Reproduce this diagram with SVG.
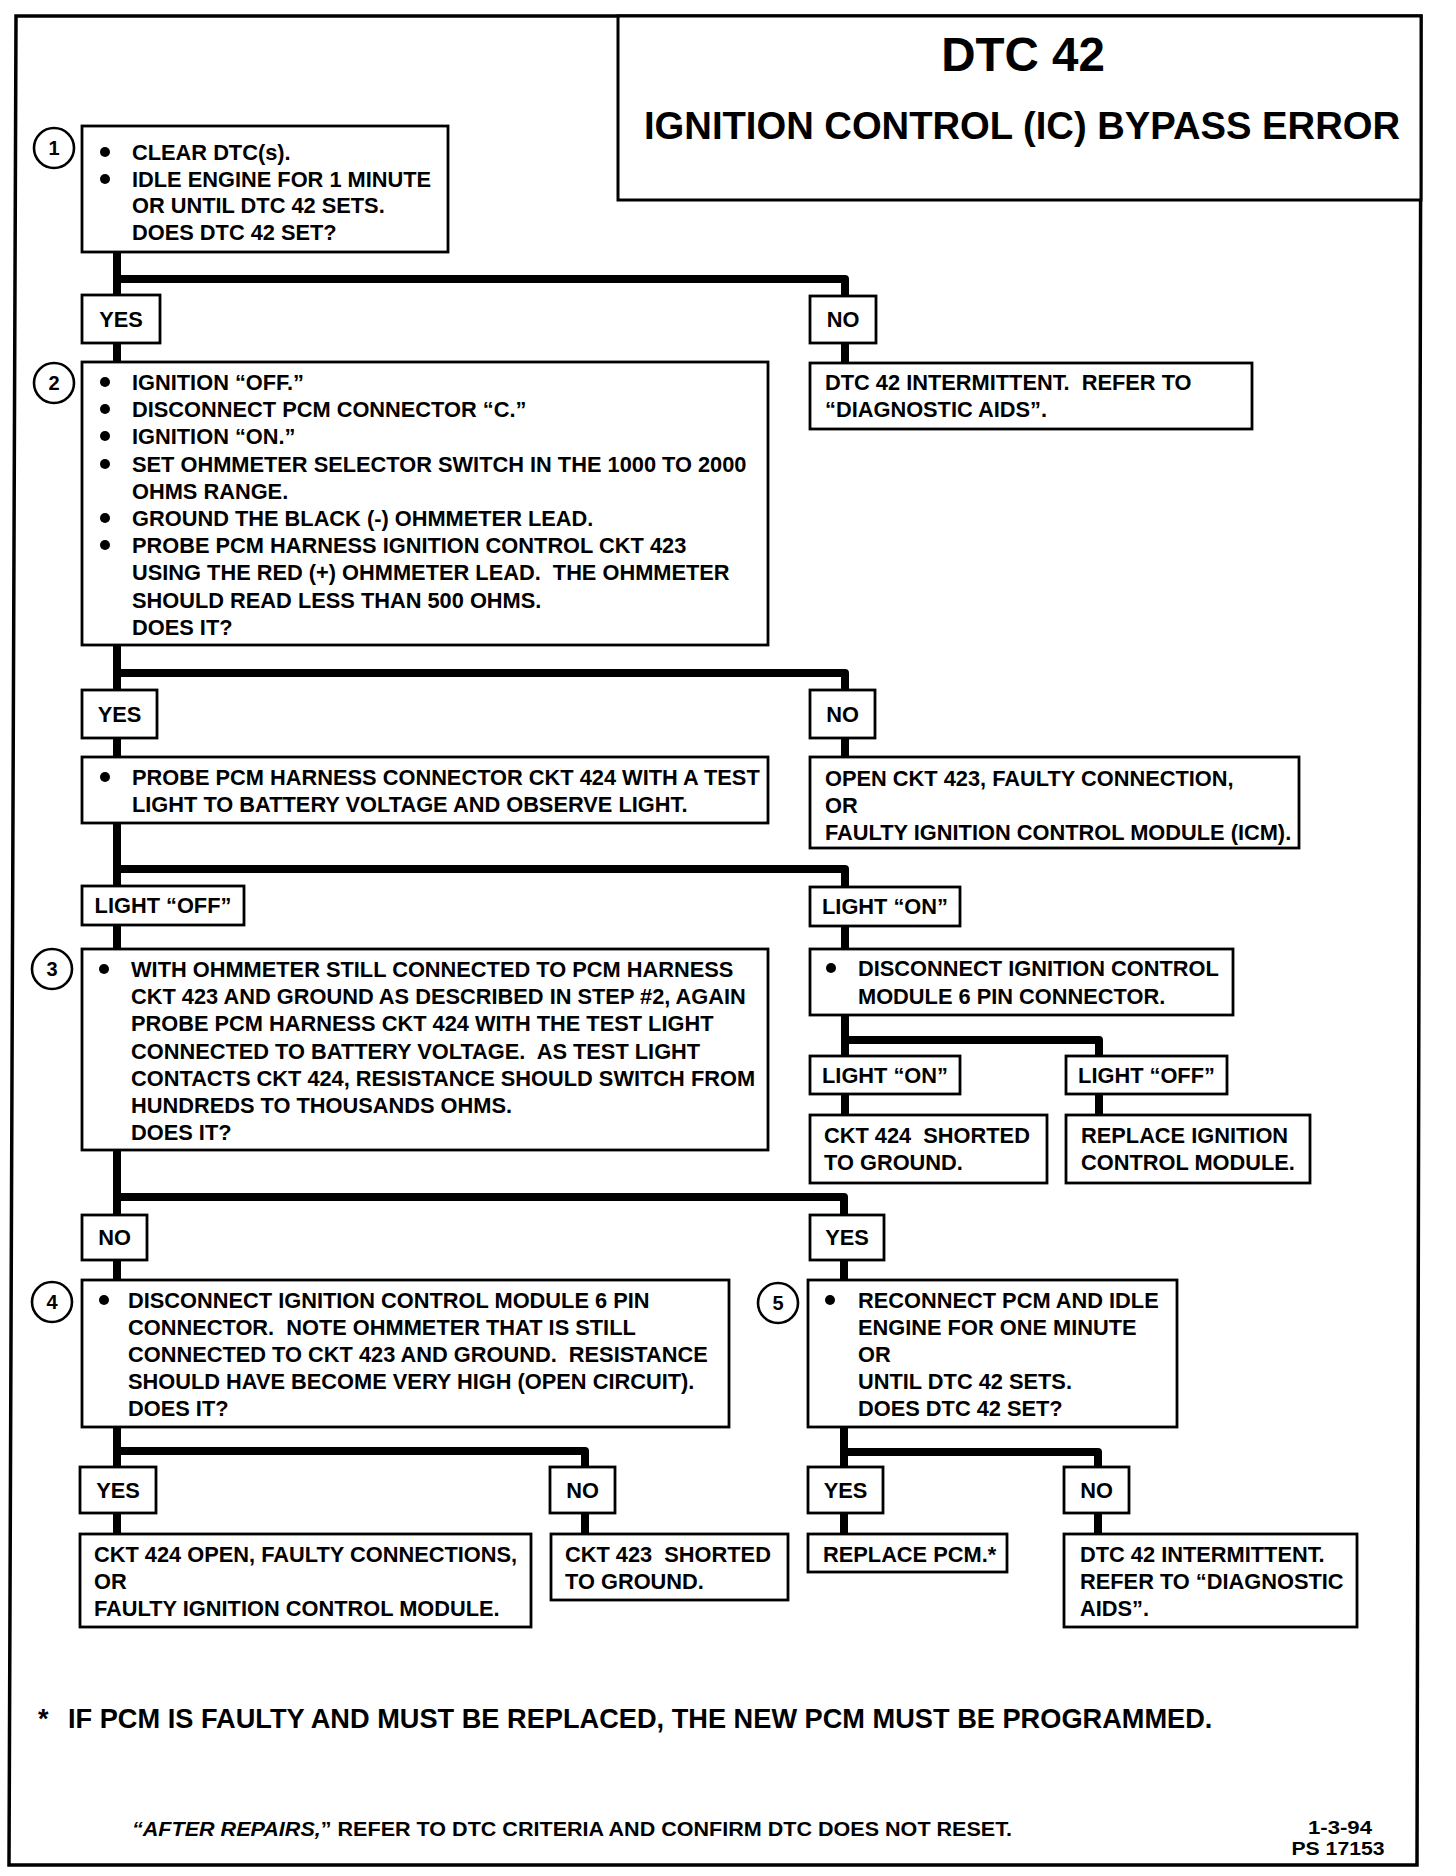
<svg xmlns="http://www.w3.org/2000/svg" width="1456" height="1876" viewBox="0 0 1456 1876" xml:space="preserve">
<style>
.box{fill:#fff;stroke:#000;stroke-width:2.8}
.t{font-family:"Liberation Sans",Arial,Helvetica,sans-serif;font-weight:bold;font-size:21.8px;fill:#000;white-space:pre}
.m{text-anchor:middle}
.conn{fill:none;stroke:#000;stroke-width:8;stroke-linejoin:round;stroke-linecap:butt}
.num{fill:#fff;stroke:#000;stroke-width:2.6}
.nt{font-family:"Liberation Sans",Arial,sans-serif;font-weight:bold;font-size:20px;text-anchor:middle}
.b{fill:#000}
</style>
<rect width="1456" height="1876" fill="#fff"/>
<polygon points="16,16 1421,16 1417,1865 9,1865" fill="none" stroke="#000" stroke-width="3.5"/>

<g id="title">
<rect x="618" y="16" width="803" height="184" fill="#fff" stroke="#000" stroke-width="3"/>
<text class="t m" x="1023" y="71" style="font-size:47.5px">DTC 42</text>
<text class="t m" x="1022" y="139" style="font-size:39px" textLength="756" lengthAdjust="spacingAndGlyphs">IGNITION CONTROL (IC) BYPASS ERROR</text>
</g>

<g id="connectors">
<path class="conn" d="M117,252 V362"/>
<path class="conn" d="M117,279 H845 V363"/>
<path class="conn" d="M117,645 V757"/>
<path class="conn" d="M117,673 H845 V757"/>
<path class="conn" d="M117,823 V949"/>
<path class="conn" d="M117,869 H845 V949"/>
<path class="conn" d="M845,1015 V1115"/>
<path class="conn" d="M845,1040 H1099 V1115"/>
<path class="conn" d="M117,1150 V1280"/>
<path class="conn" d="M117,1197 H844 V1280"/>
<path class="conn" d="M117,1427 V1534"/>
<path class="conn" d="M117,1451 H585 V1534"/>
<path class="conn" d="M844,1427 V1534"/>
<path class="conn" d="M844,1452 H1098 V1534"/>
</g>

<g id="step1">
<circle class="num" cx="54" cy="148" r="20"/>
<text class="nt" x="54" y="155">1</text>
<rect class="box" x="82" y="126" width="366" height="126"/>
<circle class="b" cx="105" cy="152" r="5"/>
<circle class="b" cx="105" cy="179" r="5"/>
<text class="t" x="132" y="160">CLEAR DTC(s).</text>
<text class="t" x="132" y="187">IDLE ENGINE FOR 1 MINUTE</text>
<text class="t" x="132" y="213">OR UNTIL DTC 42 SETS.</text>
<text class="t" x="132" y="240">DOES DTC 42 SET?</text>
</g>

<g id="yes1"><rect class="box" x="82" y="295" width="78" height="48"/><text class="t m" x="121" y="327">YES</text></g>
<g id="no1"><rect class="box" x="810" y="296" width="66" height="47"/><text class="t m" x="843" y="327">NO</text></g>

<g id="intermittent1">
<rect class="box" x="810" y="363" width="442" height="66"/>
<text class="t" x="825" y="390">DTC 42 INTERMITTENT.  REFER TO</text>
<text class="t" x="825" y="417">“DIAGNOSTIC AIDS”.</text>
</g>

<g id="step2">
<circle class="num" cx="54" cy="383" r="20"/>
<text class="nt" x="54" y="390">2</text>
<rect class="box" x="82" y="362" width="686" height="283"/>
<circle class="b" cx="105" cy="382" r="5"/>
<circle class="b" cx="105" cy="409" r="5"/>
<circle class="b" cx="105" cy="436" r="5"/>
<circle class="b" cx="105" cy="464" r="5"/>
<circle class="b" cx="105" cy="518" r="5"/>
<circle class="b" cx="105" cy="545" r="5"/>
<text class="t" x="132" y="390">IGNITION “OFF.”</text>
<text class="t" x="132" y="417">DISCONNECT PCM CONNECTOR “C.”</text>
<text class="t" x="132" y="444">IGNITION “ON.”</text>
<text class="t" x="132" y="472">SET OHMMETER SELECTOR SWITCH IN THE 1000 TO 2000</text>
<text class="t" x="132" y="499">OHMS RANGE.</text>
<text class="t" x="132" y="526">GROUND THE BLACK (-) OHMMETER LEAD.</text>
<text class="t" x="132" y="553">PROBE PCM HARNESS IGNITION CONTROL CKT 423</text>
<text class="t" x="132" y="580">USING THE RED (+) OHMMETER LEAD.  THE OHMMETER</text>
<text class="t" x="132" y="608">SHOULD READ LESS THAN 500 OHMS.</text>
<text class="t" x="132" y="635">DOES IT?</text>
</g>

<g id="yes2"><rect class="box" x="82" y="690" width="75" height="48"/><text class="t m" x="119.5" y="722">YES</text></g>
<g id="no2"><rect class="box" x="810" y="690" width="65" height="48"/><text class="t m" x="842.5" y="722">NO</text></g>

<g id="probe424">
<rect class="box" x="82" y="757" width="686" height="66"/>
<circle class="b" cx="105" cy="777" r="5"/>
<text class="t" x="132" y="785">PROBE PCM HARNESS CONNECTOR CKT 424 WITH A TEST</text>
<text class="t" x="132" y="812">LIGHT TO BATTERY VOLTAGE AND OBSERVE LIGHT.</text>
</g>

<g id="open423">
<rect class="box" x="810" y="757" width="489" height="91"/>
<text class="t" x="825" y="786">OPEN CKT 423, FAULTY CONNECTION,</text>
<text class="t" x="825" y="813">OR</text>
<text class="t" x="825" y="840">FAULTY IGNITION CONTROL MODULE (ICM).</text>
</g>

<g id="lightoff1"><rect class="box" x="82" y="886" width="162" height="39"/><text class="t m" x="163" y="913">LIGHT “OFF”</text></g>
<g id="lighton1"><rect class="box" x="810" y="887" width="150" height="39"/><text class="t m" x="885" y="914">LIGHT “ON”</text></g>

<g id="step3">
<circle class="num" cx="52" cy="969" r="20"/>
<text class="nt" x="52" y="976">3</text>
<rect class="box" x="82" y="949" width="686" height="201"/>
<circle class="b" cx="104" cy="969" r="5"/>
<text class="t" x="131" y="977">WITH OHMMETER STILL CONNECTED TO PCM HARNESS</text>
<text class="t" x="131" y="1004">CKT 423 AND GROUND AS DESCRIBED IN STEP #2, AGAIN</text>
<text class="t" x="131" y="1031">PROBE PCM HARNESS CKT 424 WITH THE TEST LIGHT</text>
<text class="t" x="131" y="1059">CONNECTED TO BATTERY VOLTAGE.  AS TEST LIGHT</text>
<text class="t" x="131" y="1086">CONTACTS CKT 424, RESISTANCE SHOULD SWITCH FROM</text>
<text class="t" x="131" y="1113">HUNDREDS TO THOUSANDS OHMS.</text>
<text class="t" x="131" y="1140">DOES IT?</text>
</g>

<g id="disconnectICM">
<rect class="box" x="810" y="949" width="423" height="66"/>
<circle class="b" cx="831" cy="968" r="5"/>
<text class="t" x="858" y="976">DISCONNECT IGNITION CONTROL</text>
<text class="t" x="858" y="1004">MODULE 6 PIN CONNECTOR.</text>
</g>

<g id="lighton2"><rect class="box" x="810" y="1056" width="150" height="38"/><text class="t m" x="885" y="1083">LIGHT “ON”</text></g>
<g id="lightoff2"><rect class="box" x="1066" y="1056" width="161" height="38"/><text class="t m" x="1146.5" y="1083">LIGHT “OFF”</text></g>

<g id="short424">
<rect class="box" x="810" y="1115" width="237" height="68"/>
<text class="t" x="824" y="1143">CKT 424  SHORTED</text>
<text class="t" x="824" y="1170">TO GROUND.</text>
</g>

<g id="replaceICM">
<rect class="box" x="1066" y="1115" width="244" height="68"/>
<text class="t" x="1081" y="1143">REPLACE IGNITION</text>
<text class="t" x="1081" y="1170">CONTROL MODULE.</text>
</g>

<g id="no3"><rect class="box" x="82" y="1215" width="65" height="45"/><text class="t m" x="114.5" y="1245">NO</text></g>
<g id="yes3"><rect class="box" x="810" y="1215" width="74" height="45"/><text class="t m" x="847" y="1245">YES</text></g>

<g id="step4">
<circle class="num" cx="52" cy="1302" r="20"/>
<text class="nt" x="52" y="1309">4</text>
<rect class="box" x="82" y="1280" width="647" height="147"/>
<circle class="b" cx="104" cy="1300" r="5"/>
<text class="t" x="128" y="1308">DISCONNECT IGNITION CONTROL MODULE 6 PIN</text>
<text class="t" x="128" y="1335">CONNECTOR.  NOTE OHMMETER THAT IS STILL</text>
<text class="t" x="128" y="1362">CONNECTED TO CKT 423 AND GROUND.  RESISTANCE</text>
<text class="t" x="128" y="1389">SHOULD HAVE BECOME VERY HIGH (OPEN CIRCUIT).</text>
<text class="t" x="128" y="1416">DOES IT?</text>
</g>

<g id="step5">
<circle class="num" cx="778" cy="1303" r="20"/>
<text class="nt" x="778" y="1310">5</text>
<rect class="box" x="808" y="1280" width="369" height="147"/>
<circle class="b" cx="830" cy="1300" r="5"/>
<text class="t" x="858" y="1308">RECONNECT PCM AND IDLE</text>
<text class="t" x="858" y="1335">ENGINE FOR ONE MINUTE</text>
<text class="t" x="858" y="1362">OR</text>
<text class="t" x="858" y="1389">UNTIL DTC 42 SETS.</text>
<text class="t" x="858" y="1416">DOES DTC 42 SET?</text>
</g>

<g id="yes4"><rect class="box" x="80" y="1467" width="76" height="46"/><text class="t m" x="118" y="1498">YES</text></g>
<g id="no4"><rect class="box" x="550" y="1467" width="65" height="46"/><text class="t m" x="582.5" y="1498">NO</text></g>
<g id="yes5"><rect class="box" x="808" y="1467" width="75" height="46"/><text class="t m" x="845.5" y="1498">YES</text></g>
<g id="no5"><rect class="box" x="1064" y="1467" width="65" height="46"/><text class="t m" x="1096.5" y="1498">NO</text></g>

<g id="open424">
<rect class="box" x="80" y="1534" width="451" height="93"/>
<text class="t" x="94" y="1562">CKT 424 OPEN, FAULTY CONNECTIONS,</text>
<text class="t" x="94" y="1589">OR</text>
<text class="t" x="94" y="1616">FAULTY IGNITION CONTROL MODULE.</text>
</g>

<g id="short423">
<rect class="box" x="551" y="1534" width="237" height="66"/>
<text class="t" x="565" y="1562">CKT 423  SHORTED</text>
<text class="t" x="565" y="1589">TO GROUND.</text>
</g>

<g id="replacePCM">
<rect class="box" x="808" y="1534" width="199" height="38"/>
<text class="t" x="823" y="1562">REPLACE PCM.*</text>
</g>

<g id="intermittent2">
<rect class="box" x="1064" y="1534" width="293" height="93"/>
<text class="t" x="1080" y="1562">DTC 42 INTERMITTENT.</text>
<text class="t" x="1080" y="1589">REFER TO “DIAGNOSTIC</text>
<text class="t" x="1080" y="1616">AIDS”.</text>
</g>

<g id="notes">
<text class="t" x="38" y="1728" style="font-size:27px">*</text>
<text class="t" x="68" y="1728" style="font-size:27.2px">IF PCM IS FAULTY AND MUST BE REPLACED, THE NEW PCM MUST BE PROGRAMMED.</text>
<text class="t" x="132" y="1836" style="font-size:20.5px" textLength="880" lengthAdjust="spacingAndGlyphs"><tspan font-style="italic">“AFTER REPAIRS,</tspan>” REFER TO DTC CRITERIA AND CONFIRM DTC DOES NOT RESET.</text>
<text class="t m" x="1340" y="1834" style="font-size:18px" textLength="64" lengthAdjust="spacingAndGlyphs">1-3-94</text>
<text class="t m" x="1338" y="1855" style="font-size:18px" textLength="93" lengthAdjust="spacingAndGlyphs">PS 17153</text>
</g>
</svg>
